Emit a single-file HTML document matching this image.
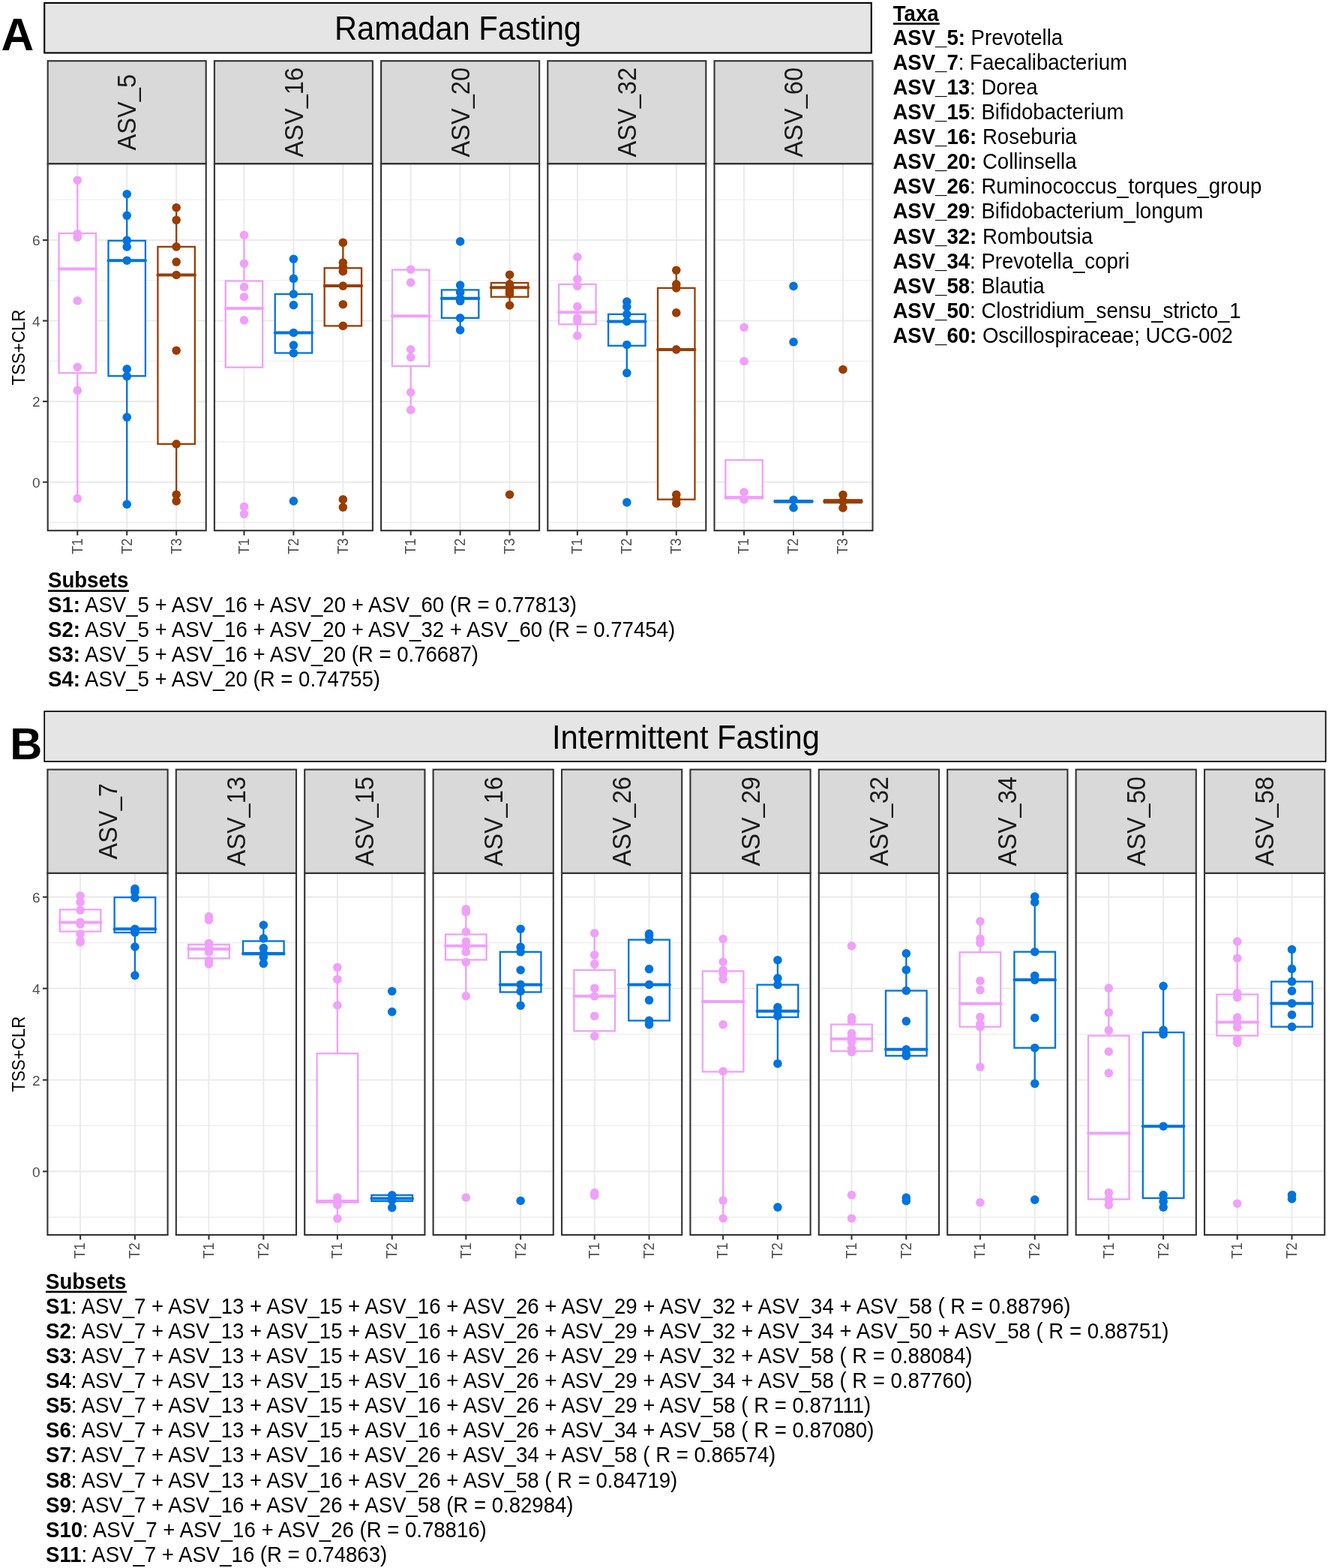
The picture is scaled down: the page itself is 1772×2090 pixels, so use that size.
<!DOCTYPE html><html><head><meta charset="utf-8"><title>Figure</title><style>html,body{margin:0;padding:0;background:#fff;}svg{display:block;} text{white-space:pre;}</style></head><body>
<svg width="1772" height="2090" viewBox="0 0 1772 2090" font-family='"Liberation Sans", Arial, Helvetica, sans-serif'>
<rect width="1772" height="2090" fill="#fff"/>
<text transform="translate(1.5 66.9)" font-size="60.5" font-weight="bold">A</text>
<rect x="59.2" y="3.9" width="1102.6" height="66.6" fill="#E5E5E5" stroke="#000" stroke-width="2.1"/>
<text transform="translate(610.5 52.6) scale(1 1.05)" font-size="41.7" text-anchor="middle">Ramadan Fasting</text>
<rect x="63.7" y="218.2" width="211" height="489" fill="#fff"/>
<line x1="63.7" x2="274.7" y1="696.36" y2="696.36" stroke="#EBEBEB" stroke-width="1.1"/>
<line x1="63.7" x2="274.7" y1="588.84" y2="588.84" stroke="#EBEBEB" stroke-width="1.1"/>
<line x1="63.7" x2="274.7" y1="481.32" y2="481.32" stroke="#EBEBEB" stroke-width="1.1"/>
<line x1="63.7" x2="274.7" y1="373.8" y2="373.8" stroke="#EBEBEB" stroke-width="1.1"/>
<line x1="63.7" x2="274.7" y1="266.28" y2="266.28" stroke="#EBEBEB" stroke-width="1.1"/>
<line x1="63.7" x2="274.7" y1="642.6" y2="642.6" stroke="#EBEBEB" stroke-width="2.1"/>
<line x1="63.7" x2="274.7" y1="535.08" y2="535.08" stroke="#EBEBEB" stroke-width="2.1"/>
<line x1="63.7" x2="274.7" y1="427.56" y2="427.56" stroke="#EBEBEB" stroke-width="2.1"/>
<line x1="63.7" x2="274.7" y1="320.04" y2="320.04" stroke="#EBEBEB" stroke-width="2.1"/>
<line x1="103.26" x2="103.26" y1="218.2" y2="707.2" stroke="#EBEBEB" stroke-width="2.1"/>
<line x1="169.2" x2="169.2" y1="218.2" y2="707.2" stroke="#EBEBEB" stroke-width="2.1"/>
<line x1="235.14" x2="235.14" y1="218.2" y2="707.2" stroke="#EBEBEB" stroke-width="2.1"/>
<line x1="103.26" x2="103.26" y1="240.2" y2="311" stroke="#F0A0FA" stroke-width="2.3"/>
<line x1="103.26" x2="103.26" y1="497.1" y2="664.4" stroke="#F0A0FA" stroke-width="2.3"/>
<rect x="78.56" y="311" width="49.4" height="186.1" fill="#fff" stroke="#F0A0FA" stroke-width="2.3"/>
<line x1="78.56" x2="127.96" y1="358.4" y2="358.4" stroke="#F0A0FA" stroke-width="4" stroke-linecap="round"/>
<line x1="169.2" x2="169.2" y1="258.7" y2="320.8" stroke="#0073DE" stroke-width="2.3"/>
<line x1="169.2" x2="169.2" y1="501.2" y2="672.2" stroke="#0073DE" stroke-width="2.3"/>
<rect x="144.5" y="320.8" width="49.4" height="180.4" fill="#fff" stroke="#0073DE" stroke-width="2.3"/>
<line x1="144.5" x2="193.9" y1="347.2" y2="347.2" stroke="#0073DE" stroke-width="4" stroke-linecap="round"/>
<line x1="235.14" x2="235.14" y1="276.7" y2="328.9" stroke="#993D00" stroke-width="2.3"/>
<line x1="235.14" x2="235.14" y1="591.8" y2="667.9" stroke="#993D00" stroke-width="2.3"/>
<rect x="210.44" y="328.9" width="49.4" height="262.9" fill="#fff" stroke="#993D00" stroke-width="2.3"/>
<line x1="210.44" x2="259.84" y1="366.5" y2="366.5" stroke="#993D00" stroke-width="4" stroke-linecap="round"/>
<circle cx="103.26" cy="240.2" r="5.8" fill="#F0A0FA"/>
<circle cx="103.26" cy="311.7" r="5.8" fill="#F0A0FA"/>
<circle cx="103.26" cy="316.3" r="5.8" fill="#F0A0FA"/>
<circle cx="103.26" cy="400.8" r="5.8" fill="#F0A0FA"/>
<circle cx="103.26" cy="489.3" r="5.8" fill="#F0A0FA"/>
<circle cx="103.26" cy="520.4" r="5.8" fill="#F0A0FA"/>
<circle cx="103.26" cy="664.4" r="5.8" fill="#F0A0FA"/>
<circle cx="169.2" cy="258.7" r="5.8" fill="#0073DE"/>
<circle cx="169.2" cy="287.3" r="5.8" fill="#0073DE"/>
<circle cx="169.2" cy="320.4" r="5.8" fill="#0073DE"/>
<circle cx="169.2" cy="328.9" r="5.8" fill="#0073DE"/>
<circle cx="169.2" cy="347.2" r="5.8" fill="#0073DE"/>
<circle cx="169.2" cy="491.9" r="5.8" fill="#0073DE"/>
<circle cx="169.2" cy="501.6" r="5.8" fill="#0073DE"/>
<circle cx="169.2" cy="556.1" r="5.8" fill="#0073DE"/>
<circle cx="169.2" cy="672.2" r="5.8" fill="#0073DE"/>
<circle cx="235.14" cy="276.7" r="5.8" fill="#993D00"/>
<circle cx="235.14" cy="293.3" r="5.8" fill="#993D00"/>
<circle cx="235.14" cy="328.9" r="5.8" fill="#993D00"/>
<circle cx="235.14" cy="349.1" r="5.8" fill="#993D00"/>
<circle cx="235.14" cy="366.5" r="5.8" fill="#993D00"/>
<circle cx="235.14" cy="467.2" r="5.8" fill="#993D00"/>
<circle cx="235.14" cy="591.8" r="5.8" fill="#993D00"/>
<circle cx="235.14" cy="659.2" r="5.8" fill="#993D00"/>
<circle cx="235.14" cy="667.9" r="5.8" fill="#993D00"/>
<rect x="63.7" y="81.2" width="211" height="137" fill="#D9D9D9" stroke="#333333" stroke-width="2.1"/>
<text transform="translate(181.3 149.7) rotate(-90) scale(1 1.05)" font-size="32.6" text-anchor="middle" fill="#1A1A1A">ASV_5</text>
<rect x="63.7" y="218.2" width="211" height="489" fill="none" stroke="#333333" stroke-width="2.1"/>
<line x1="103.26" x2="103.26" y1="707.2" y2="713.6" stroke="#333333" stroke-width="2.1"/>
<text transform="translate(109.66 717.4) rotate(-90) scale(1 1.05)" font-size="18.4" text-anchor="end" fill="#4D4D4D">T1</text>
<line x1="169.2" x2="169.2" y1="707.2" y2="713.6" stroke="#333333" stroke-width="2.1"/>
<text transform="translate(175.6 717.4) rotate(-90) scale(1 1.05)" font-size="18.4" text-anchor="end" fill="#4D4D4D">T2</text>
<line x1="235.14" x2="235.14" y1="707.2" y2="713.6" stroke="#333333" stroke-width="2.1"/>
<text transform="translate(241.54 717.4) rotate(-90) scale(1 1.05)" font-size="18.4" text-anchor="end" fill="#4D4D4D">T3</text>
<rect x="285.9" y="218.2" width="211" height="489" fill="#fff"/>
<line x1="285.9" x2="496.9" y1="696.36" y2="696.36" stroke="#EBEBEB" stroke-width="1.1"/>
<line x1="285.9" x2="496.9" y1="588.84" y2="588.84" stroke="#EBEBEB" stroke-width="1.1"/>
<line x1="285.9" x2="496.9" y1="481.32" y2="481.32" stroke="#EBEBEB" stroke-width="1.1"/>
<line x1="285.9" x2="496.9" y1="373.8" y2="373.8" stroke="#EBEBEB" stroke-width="1.1"/>
<line x1="285.9" x2="496.9" y1="266.28" y2="266.28" stroke="#EBEBEB" stroke-width="1.1"/>
<line x1="285.9" x2="496.9" y1="642.6" y2="642.6" stroke="#EBEBEB" stroke-width="2.1"/>
<line x1="285.9" x2="496.9" y1="535.08" y2="535.08" stroke="#EBEBEB" stroke-width="2.1"/>
<line x1="285.9" x2="496.9" y1="427.56" y2="427.56" stroke="#EBEBEB" stroke-width="2.1"/>
<line x1="285.9" x2="496.9" y1="320.04" y2="320.04" stroke="#EBEBEB" stroke-width="2.1"/>
<line x1="325.46" x2="325.46" y1="218.2" y2="707.2" stroke="#EBEBEB" stroke-width="2.1"/>
<line x1="391.4" x2="391.4" y1="218.2" y2="707.2" stroke="#EBEBEB" stroke-width="2.1"/>
<line x1="457.34" x2="457.34" y1="218.2" y2="707.2" stroke="#EBEBEB" stroke-width="2.1"/>
<line x1="325.46" x2="325.46" y1="313.4" y2="374.5" stroke="#F0A0FA" stroke-width="2.3"/>
<rect x="300.76" y="374.5" width="49.4" height="115.1" fill="#fff" stroke="#F0A0FA" stroke-width="2.3"/>
<line x1="300.76" x2="350.16" y1="411.1" y2="411.1" stroke="#F0A0FA" stroke-width="4" stroke-linecap="round"/>
<line x1="391.4" x2="391.4" y1="345.2" y2="392" stroke="#0073DE" stroke-width="2.3"/>
<rect x="366.7" y="392" width="49.4" height="78.5" fill="#fff" stroke="#0073DE" stroke-width="2.3"/>
<line x1="366.7" x2="416.1" y1="443.5" y2="443.5" stroke="#0073DE" stroke-width="4" stroke-linecap="round"/>
<line x1="457.34" x2="457.34" y1="323.4" y2="357.3" stroke="#993D00" stroke-width="2.3"/>
<rect x="432.64" y="357.3" width="49.4" height="77.1" fill="#fff" stroke="#993D00" stroke-width="2.3"/>
<line x1="432.64" x2="482.04" y1="381.1" y2="381.1" stroke="#993D00" stroke-width="4" stroke-linecap="round"/>
<circle cx="325.46" cy="313.4" r="5.8" fill="#F0A0FA"/>
<circle cx="325.46" cy="351.2" r="5.8" fill="#F0A0FA"/>
<circle cx="325.46" cy="382.4" r="5.8" fill="#F0A0FA"/>
<circle cx="325.46" cy="395.7" r="5.8" fill="#F0A0FA"/>
<circle cx="325.46" cy="426.9" r="5.8" fill="#F0A0FA"/>
<circle cx="325.46" cy="675.4" r="5.8" fill="#F0A0FA"/>
<circle cx="325.46" cy="685.2" r="5.8" fill="#F0A0FA"/>
<circle cx="391.4" cy="345.2" r="5.8" fill="#0073DE"/>
<circle cx="391.4" cy="371.4" r="5.8" fill="#0073DE"/>
<circle cx="391.4" cy="392" r="5.8" fill="#0073DE"/>
<circle cx="391.4" cy="406.6" r="5.8" fill="#0073DE"/>
<circle cx="391.4" cy="443.5" r="5.8" fill="#0073DE"/>
<circle cx="391.4" cy="460.1" r="5.8" fill="#0073DE"/>
<circle cx="391.4" cy="470.7" r="5.8" fill="#0073DE"/>
<circle cx="391.4" cy="667.9" r="5.8" fill="#0073DE"/>
<circle cx="457.34" cy="323.4" r="5.8" fill="#993D00"/>
<circle cx="457.34" cy="350" r="5.8" fill="#993D00"/>
<circle cx="457.34" cy="355.8" r="5.8" fill="#993D00"/>
<circle cx="457.34" cy="361.7" r="5.8" fill="#993D00"/>
<circle cx="457.34" cy="381.1" r="5.8" fill="#993D00"/>
<circle cx="457.34" cy="405.7" r="5.8" fill="#993D00"/>
<circle cx="457.34" cy="434.4" r="5.8" fill="#993D00"/>
<circle cx="457.34" cy="665.7" r="5.8" fill="#993D00"/>
<circle cx="457.34" cy="676.1" r="5.8" fill="#993D00"/>
<rect x="285.9" y="81.2" width="211" height="137" fill="#D9D9D9" stroke="#333333" stroke-width="2.1"/>
<text transform="translate(403.5 149.7) rotate(-90) scale(1 1.05)" font-size="32.6" text-anchor="middle" fill="#1A1A1A">ASV_16</text>
<rect x="285.9" y="218.2" width="211" height="489" fill="none" stroke="#333333" stroke-width="2.1"/>
<line x1="325.46" x2="325.46" y1="707.2" y2="713.6" stroke="#333333" stroke-width="2.1"/>
<text transform="translate(331.86 717.4) rotate(-90) scale(1 1.05)" font-size="18.4" text-anchor="end" fill="#4D4D4D">T1</text>
<line x1="391.4" x2="391.4" y1="707.2" y2="713.6" stroke="#333333" stroke-width="2.1"/>
<text transform="translate(397.8 717.4) rotate(-90) scale(1 1.05)" font-size="18.4" text-anchor="end" fill="#4D4D4D">T2</text>
<line x1="457.34" x2="457.34" y1="707.2" y2="713.6" stroke="#333333" stroke-width="2.1"/>
<text transform="translate(463.74 717.4) rotate(-90) scale(1 1.05)" font-size="18.4" text-anchor="end" fill="#4D4D4D">T3</text>
<rect x="508.1" y="218.2" width="211" height="489" fill="#fff"/>
<line x1="508.1" x2="719.1" y1="696.36" y2="696.36" stroke="#EBEBEB" stroke-width="1.1"/>
<line x1="508.1" x2="719.1" y1="588.84" y2="588.84" stroke="#EBEBEB" stroke-width="1.1"/>
<line x1="508.1" x2="719.1" y1="481.32" y2="481.32" stroke="#EBEBEB" stroke-width="1.1"/>
<line x1="508.1" x2="719.1" y1="373.8" y2="373.8" stroke="#EBEBEB" stroke-width="1.1"/>
<line x1="508.1" x2="719.1" y1="266.28" y2="266.28" stroke="#EBEBEB" stroke-width="1.1"/>
<line x1="508.1" x2="719.1" y1="642.6" y2="642.6" stroke="#EBEBEB" stroke-width="2.1"/>
<line x1="508.1" x2="719.1" y1="535.08" y2="535.08" stroke="#EBEBEB" stroke-width="2.1"/>
<line x1="508.1" x2="719.1" y1="427.56" y2="427.56" stroke="#EBEBEB" stroke-width="2.1"/>
<line x1="508.1" x2="719.1" y1="320.04" y2="320.04" stroke="#EBEBEB" stroke-width="2.1"/>
<line x1="547.66" x2="547.66" y1="218.2" y2="707.2" stroke="#EBEBEB" stroke-width="2.1"/>
<line x1="613.6" x2="613.6" y1="218.2" y2="707.2" stroke="#EBEBEB" stroke-width="2.1"/>
<line x1="679.54" x2="679.54" y1="218.2" y2="707.2" stroke="#EBEBEB" stroke-width="2.1"/>
<line x1="547.66" x2="547.66" y1="488" y2="546.4" stroke="#F0A0FA" stroke-width="2.3"/>
<rect x="522.96" y="359.6" width="49.4" height="128.4" fill="#fff" stroke="#F0A0FA" stroke-width="2.3"/>
<line x1="522.96" x2="572.36" y1="421.3" y2="421.3" stroke="#F0A0FA" stroke-width="4" stroke-linecap="round"/>
<line x1="613.6" x2="613.6" y1="380.1" y2="386.4" stroke="#0073DE" stroke-width="2.3"/>
<line x1="613.6" x2="613.6" y1="423.8" y2="440" stroke="#0073DE" stroke-width="2.3"/>
<rect x="588.9" y="386.4" width="49.4" height="37.4" fill="#fff" stroke="#0073DE" stroke-width="2.3"/>
<line x1="588.9" x2="638.3" y1="397.8" y2="397.8" stroke="#0073DE" stroke-width="4" stroke-linecap="round"/>
<line x1="679.54" x2="679.54" y1="366.2" y2="377" stroke="#993D00" stroke-width="2.3"/>
<line x1="679.54" x2="679.54" y1="395.7" y2="407" stroke="#993D00" stroke-width="2.3"/>
<rect x="654.84" y="377" width="49.4" height="18.7" fill="#fff" stroke="#993D00" stroke-width="2.3"/>
<line x1="654.84" x2="704.24" y1="383.3" y2="383.3" stroke="#993D00" stroke-width="4" stroke-linecap="round"/>
<circle cx="547.66" cy="359.2" r="5.8" fill="#F0A0FA"/>
<circle cx="547.66" cy="376.6" r="5.8" fill="#F0A0FA"/>
<circle cx="547.66" cy="465.7" r="5.8" fill="#F0A0FA"/>
<circle cx="547.66" cy="476.3" r="5.8" fill="#F0A0FA"/>
<circle cx="547.66" cy="523" r="5.8" fill="#F0A0FA"/>
<circle cx="547.66" cy="546.4" r="5.8" fill="#F0A0FA"/>
<circle cx="613.6" cy="321.9" r="5.8" fill="#0073DE"/>
<circle cx="613.6" cy="380.1" r="5.8" fill="#0073DE"/>
<circle cx="613.6" cy="389.5" r="5.8" fill="#0073DE"/>
<circle cx="613.6" cy="397.8" r="5.8" fill="#0073DE"/>
<circle cx="613.6" cy="401.3" r="5.8" fill="#0073DE"/>
<circle cx="613.6" cy="423.8" r="5.8" fill="#0073DE"/>
<circle cx="613.6" cy="440" r="5.8" fill="#0073DE"/>
<circle cx="679.54" cy="366.2" r="5.8" fill="#993D00"/>
<circle cx="679.54" cy="378.9" r="5.8" fill="#993D00"/>
<circle cx="679.54" cy="383.3" r="5.8" fill="#993D00"/>
<circle cx="679.54" cy="388" r="5.8" fill="#993D00"/>
<circle cx="679.54" cy="392" r="5.8" fill="#993D00"/>
<circle cx="679.54" cy="407" r="5.8" fill="#993D00"/>
<circle cx="679.54" cy="659.2" r="5.8" fill="#993D00"/>
<rect x="508.1" y="81.2" width="211" height="137" fill="#D9D9D9" stroke="#333333" stroke-width="2.1"/>
<text transform="translate(625.7 149.7) rotate(-90) scale(1 1.05)" font-size="32.6" text-anchor="middle" fill="#1A1A1A">ASV_20</text>
<rect x="508.1" y="218.2" width="211" height="489" fill="none" stroke="#333333" stroke-width="2.1"/>
<line x1="547.66" x2="547.66" y1="707.2" y2="713.6" stroke="#333333" stroke-width="2.1"/>
<text transform="translate(554.06 717.4) rotate(-90) scale(1 1.05)" font-size="18.4" text-anchor="end" fill="#4D4D4D">T1</text>
<line x1="613.6" x2="613.6" y1="707.2" y2="713.6" stroke="#333333" stroke-width="2.1"/>
<text transform="translate(620 717.4) rotate(-90) scale(1 1.05)" font-size="18.4" text-anchor="end" fill="#4D4D4D">T2</text>
<line x1="679.54" x2="679.54" y1="707.2" y2="713.6" stroke="#333333" stroke-width="2.1"/>
<text transform="translate(685.94 717.4) rotate(-90) scale(1 1.05)" font-size="18.4" text-anchor="end" fill="#4D4D4D">T3</text>
<rect x="730.3" y="218.2" width="211" height="489" fill="#fff"/>
<line x1="730.3" x2="941.3" y1="696.36" y2="696.36" stroke="#EBEBEB" stroke-width="1.1"/>
<line x1="730.3" x2="941.3" y1="588.84" y2="588.84" stroke="#EBEBEB" stroke-width="1.1"/>
<line x1="730.3" x2="941.3" y1="481.32" y2="481.32" stroke="#EBEBEB" stroke-width="1.1"/>
<line x1="730.3" x2="941.3" y1="373.8" y2="373.8" stroke="#EBEBEB" stroke-width="1.1"/>
<line x1="730.3" x2="941.3" y1="266.28" y2="266.28" stroke="#EBEBEB" stroke-width="1.1"/>
<line x1="730.3" x2="941.3" y1="642.6" y2="642.6" stroke="#EBEBEB" stroke-width="2.1"/>
<line x1="730.3" x2="941.3" y1="535.08" y2="535.08" stroke="#EBEBEB" stroke-width="2.1"/>
<line x1="730.3" x2="941.3" y1="427.56" y2="427.56" stroke="#EBEBEB" stroke-width="2.1"/>
<line x1="730.3" x2="941.3" y1="320.04" y2="320.04" stroke="#EBEBEB" stroke-width="2.1"/>
<line x1="769.86" x2="769.86" y1="218.2" y2="707.2" stroke="#EBEBEB" stroke-width="2.1"/>
<line x1="835.8" x2="835.8" y1="218.2" y2="707.2" stroke="#EBEBEB" stroke-width="2.1"/>
<line x1="901.74" x2="901.74" y1="218.2" y2="707.2" stroke="#EBEBEB" stroke-width="2.1"/>
<line x1="769.86" x2="769.86" y1="342.5" y2="378.9" stroke="#F0A0FA" stroke-width="2.3"/>
<line x1="769.86" x2="769.86" y1="432.3" y2="447.5" stroke="#F0A0FA" stroke-width="2.3"/>
<rect x="745.16" y="378.9" width="49.4" height="53.4" fill="#fff" stroke="#F0A0FA" stroke-width="2.3"/>
<line x1="745.16" x2="794.56" y1="416.3" y2="416.3" stroke="#F0A0FA" stroke-width="4" stroke-linecap="round"/>
<line x1="835.8" x2="835.8" y1="402" y2="418.8" stroke="#0073DE" stroke-width="2.3"/>
<line x1="835.8" x2="835.8" y1="460.8" y2="497.1" stroke="#0073DE" stroke-width="2.3"/>
<rect x="811.1" y="418.8" width="49.4" height="42" fill="#fff" stroke="#0073DE" stroke-width="2.3"/>
<line x1="811.1" x2="860.5" y1="428.5" y2="428.5" stroke="#0073DE" stroke-width="4" stroke-linecap="round"/>
<line x1="901.74" x2="901.74" y1="360.2" y2="383.9" stroke="#993D00" stroke-width="2.3"/>
<line x1="901.74" x2="901.74" y1="665.7" y2="670.9" stroke="#993D00" stroke-width="2.3"/>
<rect x="877.04" y="383.9" width="49.4" height="281.8" fill="#fff" stroke="#993D00" stroke-width="2.3"/>
<line x1="877.04" x2="926.44" y1="465.9" y2="465.9" stroke="#993D00" stroke-width="4" stroke-linecap="round"/>
<circle cx="769.86" cy="342.5" r="5.8" fill="#F0A0FA"/>
<circle cx="769.86" cy="372" r="5.8" fill="#F0A0FA"/>
<circle cx="769.86" cy="381.4" r="5.8" fill="#F0A0FA"/>
<circle cx="769.86" cy="408.6" r="5.8" fill="#F0A0FA"/>
<circle cx="769.86" cy="423.8" r="5.8" fill="#F0A0FA"/>
<circle cx="769.86" cy="427.5" r="5.8" fill="#F0A0FA"/>
<circle cx="769.86" cy="447.5" r="5.8" fill="#F0A0FA"/>
<circle cx="835.8" cy="402" r="5.8" fill="#0073DE"/>
<circle cx="835.8" cy="408.8" r="5.8" fill="#0073DE"/>
<circle cx="835.8" cy="418.8" r="5.8" fill="#0073DE"/>
<circle cx="835.8" cy="428.5" r="5.8" fill="#0073DE"/>
<circle cx="835.8" cy="459.5" r="5.8" fill="#0073DE"/>
<circle cx="835.8" cy="497.1" r="5.8" fill="#0073DE"/>
<circle cx="835.8" cy="669.6" r="5.8" fill="#0073DE"/>
<circle cx="901.74" cy="360.2" r="5.8" fill="#993D00"/>
<circle cx="901.74" cy="378.9" r="5.8" fill="#993D00"/>
<circle cx="901.74" cy="383.9" r="5.8" fill="#993D00"/>
<circle cx="901.74" cy="416.9" r="5.8" fill="#993D00"/>
<circle cx="901.74" cy="465.9" r="5.8" fill="#993D00"/>
<circle cx="901.74" cy="659.2" r="5.8" fill="#993D00"/>
<circle cx="901.74" cy="665.7" r="5.8" fill="#993D00"/>
<circle cx="901.74" cy="670.9" r="5.8" fill="#993D00"/>
<rect x="730.3" y="81.2" width="211" height="137" fill="#D9D9D9" stroke="#333333" stroke-width="2.1"/>
<text transform="translate(847.9 149.7) rotate(-90) scale(1 1.05)" font-size="32.6" text-anchor="middle" fill="#1A1A1A">ASV_32</text>
<rect x="730.3" y="218.2" width="211" height="489" fill="none" stroke="#333333" stroke-width="2.1"/>
<line x1="769.86" x2="769.86" y1="707.2" y2="713.6" stroke="#333333" stroke-width="2.1"/>
<text transform="translate(776.26 717.4) rotate(-90) scale(1 1.05)" font-size="18.4" text-anchor="end" fill="#4D4D4D">T1</text>
<line x1="835.8" x2="835.8" y1="707.2" y2="713.6" stroke="#333333" stroke-width="2.1"/>
<text transform="translate(842.2 717.4) rotate(-90) scale(1 1.05)" font-size="18.4" text-anchor="end" fill="#4D4D4D">T2</text>
<line x1="901.74" x2="901.74" y1="707.2" y2="713.6" stroke="#333333" stroke-width="2.1"/>
<text transform="translate(908.14 717.4) rotate(-90) scale(1 1.05)" font-size="18.4" text-anchor="end" fill="#4D4D4D">T3</text>
<rect x="952.5" y="218.2" width="211" height="489" fill="#fff"/>
<line x1="952.5" x2="1163.5" y1="696.36" y2="696.36" stroke="#EBEBEB" stroke-width="1.1"/>
<line x1="952.5" x2="1163.5" y1="588.84" y2="588.84" stroke="#EBEBEB" stroke-width="1.1"/>
<line x1="952.5" x2="1163.5" y1="481.32" y2="481.32" stroke="#EBEBEB" stroke-width="1.1"/>
<line x1="952.5" x2="1163.5" y1="373.8" y2="373.8" stroke="#EBEBEB" stroke-width="1.1"/>
<line x1="952.5" x2="1163.5" y1="266.28" y2="266.28" stroke="#EBEBEB" stroke-width="1.1"/>
<line x1="952.5" x2="1163.5" y1="642.6" y2="642.6" stroke="#EBEBEB" stroke-width="2.1"/>
<line x1="952.5" x2="1163.5" y1="535.08" y2="535.08" stroke="#EBEBEB" stroke-width="2.1"/>
<line x1="952.5" x2="1163.5" y1="427.56" y2="427.56" stroke="#EBEBEB" stroke-width="2.1"/>
<line x1="952.5" x2="1163.5" y1="320.04" y2="320.04" stroke="#EBEBEB" stroke-width="2.1"/>
<line x1="992.06" x2="992.06" y1="218.2" y2="707.2" stroke="#EBEBEB" stroke-width="2.1"/>
<line x1="1058" x2="1058" y1="218.2" y2="707.2" stroke="#EBEBEB" stroke-width="2.1"/>
<line x1="1123.94" x2="1123.94" y1="218.2" y2="707.2" stroke="#EBEBEB" stroke-width="2.1"/>
<rect x="967.36" y="613.2" width="49.4" height="51.2" fill="#fff" stroke="#F0A0FA" stroke-width="2.3"/>
<line x1="967.36" x2="1016.76" y1="663.1" y2="663.1" stroke="#F0A0FA" stroke-width="4" stroke-linecap="round"/>
<rect x="1033.3" y="667.2" width="49.4" height="2.2" fill="#fff" stroke="#0073DE" stroke-width="2.3"/>
<line x1="1033.3" x2="1082.7" y1="668.3" y2="668.3" stroke="#0073DE" stroke-width="4" stroke-linecap="round"/>
<rect x="1099.24" y="666.3" width="49.4" height="3.8" fill="#fff" stroke="#993D00" stroke-width="2.3"/>
<line x1="1099.24" x2="1148.64" y1="668.2" y2="668.2" stroke="#993D00" stroke-width="4" stroke-linecap="round"/>
<circle cx="992.06" cy="436.3" r="5.8" fill="#F0A0FA"/>
<circle cx="992.06" cy="481.5" r="5.8" fill="#F0A0FA"/>
<circle cx="992.06" cy="656" r="5.8" fill="#F0A0FA"/>
<circle cx="992.06" cy="665.7" r="5.8" fill="#F0A0FA"/>
<circle cx="1058" cy="381.4" r="5.8" fill="#0073DE"/>
<circle cx="1058" cy="455.8" r="5.8" fill="#0073DE"/>
<circle cx="1058" cy="666.4" r="5.8" fill="#0073DE"/>
<circle cx="1058" cy="676.7" r="5.8" fill="#0073DE"/>
<circle cx="1123.94" cy="492.5" r="5.8" fill="#993D00"/>
<circle cx="1123.94" cy="659.6" r="5.8" fill="#993D00"/>
<circle cx="1123.94" cy="668.2" r="5.8" fill="#993D00"/>
<circle cx="1123.94" cy="677" r="5.8" fill="#993D00"/>
<rect x="952.5" y="81.2" width="211" height="137" fill="#D9D9D9" stroke="#333333" stroke-width="2.1"/>
<text transform="translate(1070.1 149.7) rotate(-90) scale(1 1.05)" font-size="32.6" text-anchor="middle" fill="#1A1A1A">ASV_60</text>
<rect x="952.5" y="218.2" width="211" height="489" fill="none" stroke="#333333" stroke-width="2.1"/>
<line x1="992.06" x2="992.06" y1="707.2" y2="713.6" stroke="#333333" stroke-width="2.1"/>
<text transform="translate(998.46 717.4) rotate(-90) scale(1 1.05)" font-size="18.4" text-anchor="end" fill="#4D4D4D">T1</text>
<line x1="1058" x2="1058" y1="707.2" y2="713.6" stroke="#333333" stroke-width="2.1"/>
<text transform="translate(1064.4 717.4) rotate(-90) scale(1 1.05)" font-size="18.4" text-anchor="end" fill="#4D4D4D">T2</text>
<line x1="1123.94" x2="1123.94" y1="707.2" y2="713.6" stroke="#333333" stroke-width="2.1"/>
<text transform="translate(1130.34 717.4) rotate(-90) scale(1 1.05)" font-size="18.4" text-anchor="end" fill="#4D4D4D">T3</text>
<line x1="57" x2="63.7" y1="642.6" y2="642.6" stroke="#333333" stroke-width="2.1"/>
<text transform="translate(53.6 649.7)" font-size="19" text-anchor="end" fill="#4D4D4D">0</text>
<line x1="57" x2="63.7" y1="535.08" y2="535.08" stroke="#333333" stroke-width="2.1"/>
<text transform="translate(53.6 542.18)" font-size="19" text-anchor="end" fill="#4D4D4D">2</text>
<line x1="57" x2="63.7" y1="427.56" y2="427.56" stroke="#333333" stroke-width="2.1"/>
<text transform="translate(53.6 434.66)" font-size="19" text-anchor="end" fill="#4D4D4D">4</text>
<line x1="57" x2="63.7" y1="320.04" y2="320.04" stroke="#333333" stroke-width="2.1"/>
<text transform="translate(53.6 327.14)" font-size="19" text-anchor="end" fill="#4D4D4D">6</text>
<text transform="translate(33 463) rotate(-90) scale(1 1.07)" font-size="22.3" text-anchor="middle">TSS+CLR</text>
<text transform="translate(13.2 1011.7)" font-size="59.6" font-weight="bold">B</text>
<rect x="59.2" y="948.2" width="1708.4" height="66.8" fill="#E5E5E5" stroke="#000" stroke-width="1.7"/>
<text transform="translate(914.4 997.6) scale(1 1.05)" font-size="41.7" text-anchor="middle">Intermittent Fasting</text>
<rect x="63.4" y="1163.9" width="160.2" height="482.1" fill="#fff"/>
<line x1="63.4" x2="223.6" y1="1622.36" y2="1622.36" stroke="#EBEBEB" stroke-width="1.1"/>
<line x1="63.4" x2="223.6" y1="1500.44" y2="1500.44" stroke="#EBEBEB" stroke-width="1.1"/>
<line x1="63.4" x2="223.6" y1="1378.52" y2="1378.52" stroke="#EBEBEB" stroke-width="1.1"/>
<line x1="63.4" x2="223.6" y1="1256.6" y2="1256.6" stroke="#EBEBEB" stroke-width="1.1"/>
<line x1="63.4" x2="223.6" y1="1561.4" y2="1561.4" stroke="#EBEBEB" stroke-width="2.1"/>
<line x1="63.4" x2="223.6" y1="1439.48" y2="1439.48" stroke="#EBEBEB" stroke-width="2.1"/>
<line x1="63.4" x2="223.6" y1="1317.56" y2="1317.56" stroke="#EBEBEB" stroke-width="2.1"/>
<line x1="63.4" x2="223.6" y1="1195.64" y2="1195.64" stroke="#EBEBEB" stroke-width="2.1"/>
<line x1="107.09" x2="107.09" y1="1163.9" y2="1646" stroke="#EBEBEB" stroke-width="2.1"/>
<line x1="179.91" x2="179.91" y1="1163.9" y2="1646" stroke="#EBEBEB" stroke-width="2.1"/>
<line x1="107.09" x2="107.09" y1="1194" y2="1212.4" stroke="#F0A0FA" stroke-width="2.3"/>
<line x1="107.09" x2="107.09" y1="1241.6" y2="1255.9" stroke="#F0A0FA" stroke-width="2.3"/>
<rect x="79.79" y="1212.4" width="54.6" height="29.2" fill="#fff" stroke="#F0A0FA" stroke-width="2.3"/>
<line x1="79.79" x2="134.39" y1="1229.4" y2="1229.4" stroke="#F0A0FA" stroke-width="4" stroke-linecap="round"/>
<line x1="179.91" x2="179.91" y1="1184.5" y2="1196.1" stroke="#0073DE" stroke-width="2.3"/>
<line x1="179.91" x2="179.91" y1="1243" y2="1300.1" stroke="#0073DE" stroke-width="2.3"/>
<rect x="152.61" y="1196.1" width="54.6" height="46.9" fill="#fff" stroke="#0073DE" stroke-width="2.3"/>
<line x1="152.61" x2="207.21" y1="1238.2" y2="1238.2" stroke="#0073DE" stroke-width="4" stroke-linecap="round"/>
<circle cx="107.09" cy="1194" r="5.8" fill="#F0A0FA"/>
<circle cx="107.09" cy="1202.4" r="5.8" fill="#F0A0FA"/>
<circle cx="107.09" cy="1213.1" r="5.8" fill="#F0A0FA"/>
<circle cx="107.09" cy="1229.4" r="5.8" fill="#F0A0FA"/>
<circle cx="107.09" cy="1232" r="5.8" fill="#F0A0FA"/>
<circle cx="107.09" cy="1245" r="5.8" fill="#F0A0FA"/>
<circle cx="107.09" cy="1253.9" r="5.8" fill="#F0A0FA"/>
<circle cx="107.09" cy="1255.9" r="5.8" fill="#F0A0FA"/>
<circle cx="179.91" cy="1184.5" r="5.8" fill="#0073DE"/>
<circle cx="179.91" cy="1188.6" r="5.8" fill="#0073DE"/>
<circle cx="179.91" cy="1196.7" r="5.8" fill="#0073DE"/>
<circle cx="179.91" cy="1238.2" r="5.8" fill="#0073DE"/>
<circle cx="179.91" cy="1240.3" r="5.8" fill="#0073DE"/>
<circle cx="179.91" cy="1243" r="5.8" fill="#0073DE"/>
<circle cx="179.91" cy="1262" r="5.8" fill="#0073DE"/>
<circle cx="179.91" cy="1300.1" r="5.8" fill="#0073DE"/>
<rect x="63.4" y="1025.7" width="160.2" height="138.2" fill="#D9D9D9" stroke="#333333" stroke-width="2.1"/>
<text transform="translate(155.6 1094.8) rotate(-90) scale(1 1.05)" font-size="32.6" text-anchor="middle" fill="#1A1A1A">ASV_7</text>
<rect x="63.4" y="1163.9" width="160.2" height="482.1" fill="none" stroke="#333333" stroke-width="2.1"/>
<line x1="107.09" x2="107.09" y1="1646" y2="1652.4" stroke="#333333" stroke-width="2.1"/>
<text transform="translate(113.49 1656.2) rotate(-90) scale(1 1.05)" font-size="18.4" text-anchor="end" fill="#4D4D4D">T1</text>
<line x1="179.91" x2="179.91" y1="1646" y2="1652.4" stroke="#333333" stroke-width="2.1"/>
<text transform="translate(186.31 1656.2) rotate(-90) scale(1 1.05)" font-size="18.4" text-anchor="end" fill="#4D4D4D">T2</text>
<rect x="234.8" y="1163.9" width="160.2" height="482.1" fill="#fff"/>
<line x1="234.8" x2="395" y1="1622.36" y2="1622.36" stroke="#EBEBEB" stroke-width="1.1"/>
<line x1="234.8" x2="395" y1="1500.44" y2="1500.44" stroke="#EBEBEB" stroke-width="1.1"/>
<line x1="234.8" x2="395" y1="1378.52" y2="1378.52" stroke="#EBEBEB" stroke-width="1.1"/>
<line x1="234.8" x2="395" y1="1256.6" y2="1256.6" stroke="#EBEBEB" stroke-width="1.1"/>
<line x1="234.8" x2="395" y1="1561.4" y2="1561.4" stroke="#EBEBEB" stroke-width="2.1"/>
<line x1="234.8" x2="395" y1="1439.48" y2="1439.48" stroke="#EBEBEB" stroke-width="2.1"/>
<line x1="234.8" x2="395" y1="1317.56" y2="1317.56" stroke="#EBEBEB" stroke-width="2.1"/>
<line x1="234.8" x2="395" y1="1195.64" y2="1195.64" stroke="#EBEBEB" stroke-width="2.1"/>
<line x1="278.49" x2="278.49" y1="1163.9" y2="1646" stroke="#EBEBEB" stroke-width="2.1"/>
<line x1="351.31" x2="351.31" y1="1163.9" y2="1646" stroke="#EBEBEB" stroke-width="2.1"/>
<line x1="278.49" x2="278.49" y1="1257.2" y2="1259" stroke="#F0A0FA" stroke-width="2.3"/>
<line x1="278.49" x2="278.49" y1="1277.4" y2="1284.9" stroke="#F0A0FA" stroke-width="2.3"/>
<rect x="251.19" y="1259" width="54.6" height="18.4" fill="#fff" stroke="#F0A0FA" stroke-width="2.3"/>
<line x1="251.19" x2="305.79" y1="1265.1" y2="1265.1" stroke="#F0A0FA" stroke-width="4" stroke-linecap="round"/>
<line x1="351.31" x2="351.31" y1="1233" y2="1254.4" stroke="#0073DE" stroke-width="2.3"/>
<line x1="351.31" x2="351.31" y1="1272.2" y2="1284.3" stroke="#0073DE" stroke-width="2.3"/>
<rect x="324.01" y="1254.4" width="54.6" height="17.8" fill="#fff" stroke="#0073DE" stroke-width="2.3"/>
<line x1="324.01" x2="378.61" y1="1271.1" y2="1271.1" stroke="#0073DE" stroke-width="4" stroke-linecap="round"/>
<circle cx="278.49" cy="1221.5" r="5.8" fill="#F0A0FA"/>
<circle cx="278.49" cy="1226.1" r="5.8" fill="#F0A0FA"/>
<circle cx="278.49" cy="1257.2" r="5.8" fill="#F0A0FA"/>
<circle cx="278.49" cy="1263" r="5.8" fill="#F0A0FA"/>
<circle cx="278.49" cy="1268.8" r="5.8" fill="#F0A0FA"/>
<circle cx="278.49" cy="1280.3" r="5.8" fill="#F0A0FA"/>
<circle cx="278.49" cy="1284.9" r="5.8" fill="#F0A0FA"/>
<circle cx="351.31" cy="1233" r="5.8" fill="#0073DE"/>
<circle cx="351.31" cy="1250.9" r="5.8" fill="#0073DE"/>
<circle cx="351.31" cy="1263.6" r="5.8" fill="#0073DE"/>
<circle cx="351.31" cy="1271.1" r="5.8" fill="#0073DE"/>
<circle cx="351.31" cy="1275.7" r="5.8" fill="#0073DE"/>
<circle cx="351.31" cy="1284.3" r="5.8" fill="#0073DE"/>
<rect x="234.8" y="1025.7" width="160.2" height="138.2" fill="#D9D9D9" stroke="#333333" stroke-width="2.1"/>
<text transform="translate(327 1094.8) rotate(-90) scale(1 1.05)" font-size="32.6" text-anchor="middle" fill="#1A1A1A">ASV_13</text>
<rect x="234.8" y="1163.9" width="160.2" height="482.1" fill="none" stroke="#333333" stroke-width="2.1"/>
<line x1="278.49" x2="278.49" y1="1646" y2="1652.4" stroke="#333333" stroke-width="2.1"/>
<text transform="translate(284.89 1656.2) rotate(-90) scale(1 1.05)" font-size="18.4" text-anchor="end" fill="#4D4D4D">T1</text>
<line x1="351.31" x2="351.31" y1="1646" y2="1652.4" stroke="#333333" stroke-width="2.1"/>
<text transform="translate(357.71 1656.2) rotate(-90) scale(1 1.05)" font-size="18.4" text-anchor="end" fill="#4D4D4D">T2</text>
<rect x="406.2" y="1163.9" width="160.2" height="482.1" fill="#fff"/>
<line x1="406.2" x2="566.4" y1="1622.36" y2="1622.36" stroke="#EBEBEB" stroke-width="1.1"/>
<line x1="406.2" x2="566.4" y1="1500.44" y2="1500.44" stroke="#EBEBEB" stroke-width="1.1"/>
<line x1="406.2" x2="566.4" y1="1378.52" y2="1378.52" stroke="#EBEBEB" stroke-width="1.1"/>
<line x1="406.2" x2="566.4" y1="1256.6" y2="1256.6" stroke="#EBEBEB" stroke-width="1.1"/>
<line x1="406.2" x2="566.4" y1="1561.4" y2="1561.4" stroke="#EBEBEB" stroke-width="2.1"/>
<line x1="406.2" x2="566.4" y1="1439.48" y2="1439.48" stroke="#EBEBEB" stroke-width="2.1"/>
<line x1="406.2" x2="566.4" y1="1317.56" y2="1317.56" stroke="#EBEBEB" stroke-width="2.1"/>
<line x1="406.2" x2="566.4" y1="1195.64" y2="1195.64" stroke="#EBEBEB" stroke-width="2.1"/>
<line x1="449.89" x2="449.89" y1="1163.9" y2="1646" stroke="#EBEBEB" stroke-width="2.1"/>
<line x1="522.71" x2="522.71" y1="1163.9" y2="1646" stroke="#EBEBEB" stroke-width="2.1"/>
<line x1="449.89" x2="449.89" y1="1289.3" y2="1404.2" stroke="#F0A0FA" stroke-width="2.3"/>
<line x1="449.89" x2="449.89" y1="1602.8" y2="1624.3" stroke="#F0A0FA" stroke-width="2.3"/>
<rect x="422.59" y="1404.2" width="54.6" height="198.6" fill="#fff" stroke="#F0A0FA" stroke-width="2.3"/>
<line x1="422.59" x2="477.19" y1="1601" y2="1601" stroke="#F0A0FA" stroke-width="4" stroke-linecap="round"/>
<rect x="495.41" y="1593" width="54.6" height="8" fill="#fff" stroke="#0073DE" stroke-width="2.3"/>
<line x1="495.41" x2="550.01" y1="1597.5" y2="1597.5" stroke="#0073DE" stroke-width="4" stroke-linecap="round"/>
<circle cx="449.89" cy="1289.3" r="5.8" fill="#F0A0FA"/>
<circle cx="449.89" cy="1305.4" r="5.8" fill="#F0A0FA"/>
<circle cx="449.89" cy="1340" r="5.8" fill="#F0A0FA"/>
<circle cx="449.89" cy="1596" r="5.8" fill="#F0A0FA"/>
<circle cx="449.89" cy="1601" r="5.8" fill="#F0A0FA"/>
<circle cx="449.89" cy="1605.9" r="5.8" fill="#F0A0FA"/>
<circle cx="449.89" cy="1624.3" r="5.8" fill="#F0A0FA"/>
<circle cx="522.71" cy="1321.2" r="5.8" fill="#0073DE"/>
<circle cx="522.71" cy="1348.6" r="5.8" fill="#0073DE"/>
<circle cx="522.71" cy="1593" r="5.8" fill="#0073DE"/>
<circle cx="522.71" cy="1600" r="5.8" fill="#0073DE"/>
<circle cx="522.71" cy="1609.6" r="5.8" fill="#0073DE"/>
<rect x="406.2" y="1025.7" width="160.2" height="138.2" fill="#D9D9D9" stroke="#333333" stroke-width="2.1"/>
<text transform="translate(498.4 1094.8) rotate(-90) scale(1 1.05)" font-size="32.6" text-anchor="middle" fill="#1A1A1A">ASV_15</text>
<rect x="406.2" y="1163.9" width="160.2" height="482.1" fill="none" stroke="#333333" stroke-width="2.1"/>
<line x1="449.89" x2="449.89" y1="1646" y2="1652.4" stroke="#333333" stroke-width="2.1"/>
<text transform="translate(456.29 1656.2) rotate(-90) scale(1 1.05)" font-size="18.4" text-anchor="end" fill="#4D4D4D">T1</text>
<line x1="522.71" x2="522.71" y1="1646" y2="1652.4" stroke="#333333" stroke-width="2.1"/>
<text transform="translate(529.11 1656.2) rotate(-90) scale(1 1.05)" font-size="18.4" text-anchor="end" fill="#4D4D4D">T2</text>
<rect x="577.6" y="1163.9" width="160.2" height="482.1" fill="#fff"/>
<line x1="577.6" x2="737.8" y1="1622.36" y2="1622.36" stroke="#EBEBEB" stroke-width="1.1"/>
<line x1="577.6" x2="737.8" y1="1500.44" y2="1500.44" stroke="#EBEBEB" stroke-width="1.1"/>
<line x1="577.6" x2="737.8" y1="1378.52" y2="1378.52" stroke="#EBEBEB" stroke-width="1.1"/>
<line x1="577.6" x2="737.8" y1="1256.6" y2="1256.6" stroke="#EBEBEB" stroke-width="1.1"/>
<line x1="577.6" x2="737.8" y1="1561.4" y2="1561.4" stroke="#EBEBEB" stroke-width="2.1"/>
<line x1="577.6" x2="737.8" y1="1439.48" y2="1439.48" stroke="#EBEBEB" stroke-width="2.1"/>
<line x1="577.6" x2="737.8" y1="1317.56" y2="1317.56" stroke="#EBEBEB" stroke-width="2.1"/>
<line x1="577.6" x2="737.8" y1="1195.64" y2="1195.64" stroke="#EBEBEB" stroke-width="2.1"/>
<line x1="621.29" x2="621.29" y1="1163.9" y2="1646" stroke="#EBEBEB" stroke-width="2.1"/>
<line x1="694.11" x2="694.11" y1="1163.9" y2="1646" stroke="#EBEBEB" stroke-width="2.1"/>
<line x1="621.29" x2="621.29" y1="1211.7" y2="1245.5" stroke="#F0A0FA" stroke-width="2.3"/>
<line x1="621.29" x2="621.29" y1="1279.4" y2="1327.6" stroke="#F0A0FA" stroke-width="2.3"/>
<rect x="593.99" y="1245.5" width="54.6" height="33.9" fill="#fff" stroke="#F0A0FA" stroke-width="2.3"/>
<line x1="593.99" x2="648.59" y1="1260.7" y2="1260.7" stroke="#F0A0FA" stroke-width="4" stroke-linecap="round"/>
<line x1="694.11" x2="694.11" y1="1238.2" y2="1268.8" stroke="#0073DE" stroke-width="2.3"/>
<line x1="694.11" x2="694.11" y1="1322.4" y2="1340.3" stroke="#0073DE" stroke-width="2.3"/>
<rect x="666.81" y="1268.8" width="54.6" height="53.6" fill="#fff" stroke="#0073DE" stroke-width="2.3"/>
<line x1="666.81" x2="721.41" y1="1312.4" y2="1312.4" stroke="#0073DE" stroke-width="4" stroke-linecap="round"/>
<circle cx="621.29" cy="1211.7" r="5.8" fill="#F0A0FA"/>
<circle cx="621.29" cy="1215.7" r="5.8" fill="#F0A0FA"/>
<circle cx="621.29" cy="1242" r="5.8" fill="#F0A0FA"/>
<circle cx="621.29" cy="1255" r="5.8" fill="#F0A0FA"/>
<circle cx="621.29" cy="1260.7" r="5.8" fill="#F0A0FA"/>
<circle cx="621.29" cy="1268.8" r="5.8" fill="#F0A0FA"/>
<circle cx="621.29" cy="1282.6" r="5.8" fill="#F0A0FA"/>
<circle cx="621.29" cy="1327.6" r="5.8" fill="#F0A0FA"/>
<circle cx="621.29" cy="1596.2" r="5.8" fill="#F0A0FA"/>
<circle cx="694.11" cy="1238.2" r="5.8" fill="#0073DE"/>
<circle cx="694.11" cy="1262.4" r="5.8" fill="#0073DE"/>
<circle cx="694.11" cy="1268.8" r="5.8" fill="#0073DE"/>
<circle cx="694.11" cy="1293" r="5.8" fill="#0073DE"/>
<circle cx="694.11" cy="1312.4" r="5.8" fill="#0073DE"/>
<circle cx="694.11" cy="1321.2" r="5.8" fill="#0073DE"/>
<circle cx="694.11" cy="1340.3" r="5.8" fill="#0073DE"/>
<circle cx="694.11" cy="1600.5" r="5.8" fill="#0073DE"/>
<rect x="577.6" y="1025.7" width="160.2" height="138.2" fill="#D9D9D9" stroke="#333333" stroke-width="2.1"/>
<text transform="translate(669.8 1094.8) rotate(-90) scale(1 1.05)" font-size="32.6" text-anchor="middle" fill="#1A1A1A">ASV_16</text>
<rect x="577.6" y="1163.9" width="160.2" height="482.1" fill="none" stroke="#333333" stroke-width="2.1"/>
<line x1="621.29" x2="621.29" y1="1646" y2="1652.4" stroke="#333333" stroke-width="2.1"/>
<text transform="translate(627.69 1656.2) rotate(-90) scale(1 1.05)" font-size="18.4" text-anchor="end" fill="#4D4D4D">T1</text>
<line x1="694.11" x2="694.11" y1="1646" y2="1652.4" stroke="#333333" stroke-width="2.1"/>
<text transform="translate(700.51 1656.2) rotate(-90) scale(1 1.05)" font-size="18.4" text-anchor="end" fill="#4D4D4D">T2</text>
<rect x="749" y="1163.9" width="160.2" height="482.1" fill="#fff"/>
<line x1="749" x2="909.2" y1="1622.36" y2="1622.36" stroke="#EBEBEB" stroke-width="1.1"/>
<line x1="749" x2="909.2" y1="1500.44" y2="1500.44" stroke="#EBEBEB" stroke-width="1.1"/>
<line x1="749" x2="909.2" y1="1378.52" y2="1378.52" stroke="#EBEBEB" stroke-width="1.1"/>
<line x1="749" x2="909.2" y1="1256.6" y2="1256.6" stroke="#EBEBEB" stroke-width="1.1"/>
<line x1="749" x2="909.2" y1="1561.4" y2="1561.4" stroke="#EBEBEB" stroke-width="2.1"/>
<line x1="749" x2="909.2" y1="1439.48" y2="1439.48" stroke="#EBEBEB" stroke-width="2.1"/>
<line x1="749" x2="909.2" y1="1317.56" y2="1317.56" stroke="#EBEBEB" stroke-width="2.1"/>
<line x1="749" x2="909.2" y1="1195.64" y2="1195.64" stroke="#EBEBEB" stroke-width="2.1"/>
<line x1="792.69" x2="792.69" y1="1163.9" y2="1646" stroke="#EBEBEB" stroke-width="2.1"/>
<line x1="865.51" x2="865.51" y1="1163.9" y2="1646" stroke="#EBEBEB" stroke-width="2.1"/>
<line x1="792.69" x2="792.69" y1="1243.8" y2="1293" stroke="#F0A0FA" stroke-width="2.3"/>
<line x1="792.69" x2="792.69" y1="1374.3" y2="1381.2" stroke="#F0A0FA" stroke-width="2.3"/>
<rect x="765.39" y="1293" width="54.6" height="81.3" fill="#fff" stroke="#F0A0FA" stroke-width="2.3"/>
<line x1="765.39" x2="819.99" y1="1327.8" y2="1327.8" stroke="#F0A0FA" stroke-width="4" stroke-linecap="round"/>
<line x1="865.51" x2="865.51" y1="1244.6" y2="1252.6" stroke="#0073DE" stroke-width="2.3"/>
<line x1="865.51" x2="865.51" y1="1360.4" y2="1365.6" stroke="#0073DE" stroke-width="2.3"/>
<rect x="838.21" y="1252.6" width="54.6" height="107.8" fill="#fff" stroke="#0073DE" stroke-width="2.3"/>
<line x1="838.21" x2="892.81" y1="1312.4" y2="1312.4" stroke="#0073DE" stroke-width="4" stroke-linecap="round"/>
<circle cx="792.69" cy="1243.8" r="5.8" fill="#F0A0FA"/>
<circle cx="792.69" cy="1272.8" r="5.8" fill="#F0A0FA"/>
<circle cx="792.69" cy="1284.9" r="5.8" fill="#F0A0FA"/>
<circle cx="792.69" cy="1317.2" r="5.8" fill="#F0A0FA"/>
<circle cx="792.69" cy="1327.8" r="5.8" fill="#F0A0FA"/>
<circle cx="792.69" cy="1354.3" r="5.8" fill="#F0A0FA"/>
<circle cx="792.69" cy="1381.2" r="5.8" fill="#F0A0FA"/>
<circle cx="792.69" cy="1589.9" r="5.8" fill="#F0A0FA"/>
<circle cx="792.69" cy="1593.7" r="5.8" fill="#F0A0FA"/>
<circle cx="865.51" cy="1244.6" r="5.8" fill="#0073DE"/>
<circle cx="865.51" cy="1246.9" r="5.8" fill="#0073DE"/>
<circle cx="865.51" cy="1252.6" r="5.8" fill="#0073DE"/>
<circle cx="865.51" cy="1291.6" r="5.8" fill="#0073DE"/>
<circle cx="865.51" cy="1312.4" r="5.8" fill="#0073DE"/>
<circle cx="865.51" cy="1333.1" r="5.8" fill="#0073DE"/>
<circle cx="865.51" cy="1360.4" r="5.8" fill="#0073DE"/>
<circle cx="865.51" cy="1365.6" r="5.8" fill="#0073DE"/>
<rect x="749" y="1025.7" width="160.2" height="138.2" fill="#D9D9D9" stroke="#333333" stroke-width="2.1"/>
<text transform="translate(841.2 1094.8) rotate(-90) scale(1 1.05)" font-size="32.6" text-anchor="middle" fill="#1A1A1A">ASV_26</text>
<rect x="749" y="1163.9" width="160.2" height="482.1" fill="none" stroke="#333333" stroke-width="2.1"/>
<line x1="792.69" x2="792.69" y1="1646" y2="1652.4" stroke="#333333" stroke-width="2.1"/>
<text transform="translate(799.09 1656.2) rotate(-90) scale(1 1.05)" font-size="18.4" text-anchor="end" fill="#4D4D4D">T1</text>
<line x1="865.51" x2="865.51" y1="1646" y2="1652.4" stroke="#333333" stroke-width="2.1"/>
<text transform="translate(871.91 1656.2) rotate(-90) scale(1 1.05)" font-size="18.4" text-anchor="end" fill="#4D4D4D">T2</text>
<rect x="920.4" y="1163.9" width="160.2" height="482.1" fill="#fff"/>
<line x1="920.4" x2="1080.6" y1="1622.36" y2="1622.36" stroke="#EBEBEB" stroke-width="1.1"/>
<line x1="920.4" x2="1080.6" y1="1500.44" y2="1500.44" stroke="#EBEBEB" stroke-width="1.1"/>
<line x1="920.4" x2="1080.6" y1="1378.52" y2="1378.52" stroke="#EBEBEB" stroke-width="1.1"/>
<line x1="920.4" x2="1080.6" y1="1256.6" y2="1256.6" stroke="#EBEBEB" stroke-width="1.1"/>
<line x1="920.4" x2="1080.6" y1="1561.4" y2="1561.4" stroke="#EBEBEB" stroke-width="2.1"/>
<line x1="920.4" x2="1080.6" y1="1439.48" y2="1439.48" stroke="#EBEBEB" stroke-width="2.1"/>
<line x1="920.4" x2="1080.6" y1="1317.56" y2="1317.56" stroke="#EBEBEB" stroke-width="2.1"/>
<line x1="920.4" x2="1080.6" y1="1195.64" y2="1195.64" stroke="#EBEBEB" stroke-width="2.1"/>
<line x1="964.09" x2="964.09" y1="1163.9" y2="1646" stroke="#EBEBEB" stroke-width="2.1"/>
<line x1="1036.91" x2="1036.91" y1="1163.9" y2="1646" stroke="#EBEBEB" stroke-width="2.1"/>
<line x1="964.09" x2="964.09" y1="1251.5" y2="1294.4" stroke="#F0A0FA" stroke-width="2.3"/>
<line x1="964.09" x2="964.09" y1="1428.5" y2="1624" stroke="#F0A0FA" stroke-width="2.3"/>
<rect x="936.79" y="1294.4" width="54.6" height="134.1" fill="#fff" stroke="#F0A0FA" stroke-width="2.3"/>
<line x1="936.79" x2="991.39" y1="1335.1" y2="1335.1" stroke="#F0A0FA" stroke-width="4" stroke-linecap="round"/>
<line x1="1036.91" x2="1036.91" y1="1279.7" y2="1312.6" stroke="#0073DE" stroke-width="2.3"/>
<line x1="1036.91" x2="1036.91" y1="1355.8" y2="1417.7" stroke="#0073DE" stroke-width="2.3"/>
<rect x="1009.61" y="1312.6" width="54.6" height="43.2" fill="#fff" stroke="#0073DE" stroke-width="2.3"/>
<line x1="1009.61" x2="1064.21" y1="1347.8" y2="1347.8" stroke="#0073DE" stroke-width="4" stroke-linecap="round"/>
<circle cx="964.09" cy="1251.5" r="5.8" fill="#F0A0FA"/>
<circle cx="964.09" cy="1282" r="5.8" fill="#F0A0FA"/>
<circle cx="964.09" cy="1293" r="5.8" fill="#F0A0FA"/>
<circle cx="964.09" cy="1297.6" r="5.8" fill="#F0A0FA"/>
<circle cx="964.09" cy="1305.1" r="5.8" fill="#F0A0FA"/>
<circle cx="964.09" cy="1365.6" r="5.8" fill="#F0A0FA"/>
<circle cx="964.09" cy="1428" r="5.8" fill="#F0A0FA"/>
<circle cx="964.09" cy="1600.1" r="5.8" fill="#F0A0FA"/>
<circle cx="964.09" cy="1624" r="5.8" fill="#F0A0FA"/>
<circle cx="1036.91" cy="1279.7" r="5.8" fill="#0073DE"/>
<circle cx="1036.91" cy="1303.9" r="5.8" fill="#0073DE"/>
<circle cx="1036.91" cy="1312.6" r="5.8" fill="#0073DE"/>
<circle cx="1036.91" cy="1342.6" r="5.8" fill="#0073DE"/>
<circle cx="1036.91" cy="1347.2" r="5.8" fill="#0073DE"/>
<circle cx="1036.91" cy="1354.1" r="5.8" fill="#0073DE"/>
<circle cx="1036.91" cy="1417.7" r="5.8" fill="#0073DE"/>
<circle cx="1036.91" cy="1609.1" r="5.8" fill="#0073DE"/>
<rect x="920.4" y="1025.7" width="160.2" height="138.2" fill="#D9D9D9" stroke="#333333" stroke-width="2.1"/>
<text transform="translate(1012.6 1094.8) rotate(-90) scale(1 1.05)" font-size="32.6" text-anchor="middle" fill="#1A1A1A">ASV_29</text>
<rect x="920.4" y="1163.9" width="160.2" height="482.1" fill="none" stroke="#333333" stroke-width="2.1"/>
<line x1="964.09" x2="964.09" y1="1646" y2="1652.4" stroke="#333333" stroke-width="2.1"/>
<text transform="translate(970.49 1656.2) rotate(-90) scale(1 1.05)" font-size="18.4" text-anchor="end" fill="#4D4D4D">T1</text>
<line x1="1036.91" x2="1036.91" y1="1646" y2="1652.4" stroke="#333333" stroke-width="2.1"/>
<text transform="translate(1043.31 1656.2) rotate(-90) scale(1 1.05)" font-size="18.4" text-anchor="end" fill="#4D4D4D">T2</text>
<rect x="1091.8" y="1163.9" width="160.2" height="482.1" fill="#fff"/>
<line x1="1091.8" x2="1252" y1="1622.36" y2="1622.36" stroke="#EBEBEB" stroke-width="1.1"/>
<line x1="1091.8" x2="1252" y1="1500.44" y2="1500.44" stroke="#EBEBEB" stroke-width="1.1"/>
<line x1="1091.8" x2="1252" y1="1378.52" y2="1378.52" stroke="#EBEBEB" stroke-width="1.1"/>
<line x1="1091.8" x2="1252" y1="1256.6" y2="1256.6" stroke="#EBEBEB" stroke-width="1.1"/>
<line x1="1091.8" x2="1252" y1="1561.4" y2="1561.4" stroke="#EBEBEB" stroke-width="2.1"/>
<line x1="1091.8" x2="1252" y1="1439.48" y2="1439.48" stroke="#EBEBEB" stroke-width="2.1"/>
<line x1="1091.8" x2="1252" y1="1317.56" y2="1317.56" stroke="#EBEBEB" stroke-width="2.1"/>
<line x1="1091.8" x2="1252" y1="1195.64" y2="1195.64" stroke="#EBEBEB" stroke-width="2.1"/>
<line x1="1135.49" x2="1135.49" y1="1163.9" y2="1646" stroke="#EBEBEB" stroke-width="2.1"/>
<line x1="1208.31" x2="1208.31" y1="1163.9" y2="1646" stroke="#EBEBEB" stroke-width="2.1"/>
<line x1="1135.49" x2="1135.49" y1="1356.1" y2="1365.5" stroke="#F0A0FA" stroke-width="2.3"/>
<line x1="1135.49" x2="1135.49" y1="1401.1" y2="1402.3" stroke="#F0A0FA" stroke-width="2.3"/>
<rect x="1108.19" y="1365.5" width="54.6" height="35.6" fill="#fff" stroke="#F0A0FA" stroke-width="2.3"/>
<line x1="1108.19" x2="1162.79" y1="1384.8" y2="1384.8" stroke="#F0A0FA" stroke-width="4" stroke-linecap="round"/>
<line x1="1208.31" x2="1208.31" y1="1270.9" y2="1320.5" stroke="#0073DE" stroke-width="2.3"/>
<rect x="1181.01" y="1320.5" width="54.6" height="86.8" fill="#fff" stroke="#0073DE" stroke-width="2.3"/>
<line x1="1181.01" x2="1235.61" y1="1398.8" y2="1398.8" stroke="#0073DE" stroke-width="4" stroke-linecap="round"/>
<circle cx="1135.49" cy="1260.9" r="5.8" fill="#F0A0FA"/>
<circle cx="1135.49" cy="1356.1" r="5.8" fill="#F0A0FA"/>
<circle cx="1135.49" cy="1361.1" r="5.8" fill="#F0A0FA"/>
<circle cx="1135.49" cy="1377.3" r="5.8" fill="#F0A0FA"/>
<circle cx="1135.49" cy="1382.3" r="5.8" fill="#F0A0FA"/>
<circle cx="1135.49" cy="1388.6" r="5.8" fill="#F0A0FA"/>
<circle cx="1135.49" cy="1397.3" r="5.8" fill="#F0A0FA"/>
<circle cx="1135.49" cy="1402.3" r="5.8" fill="#F0A0FA"/>
<circle cx="1135.49" cy="1592.8" r="5.8" fill="#F0A0FA"/>
<circle cx="1135.49" cy="1624" r="5.8" fill="#F0A0FA"/>
<circle cx="1208.31" cy="1270.9" r="5.8" fill="#0073DE"/>
<circle cx="1208.31" cy="1292.7" r="5.8" fill="#0073DE"/>
<circle cx="1208.31" cy="1320.5" r="5.8" fill="#0073DE"/>
<circle cx="1208.31" cy="1361.1" r="5.8" fill="#0073DE"/>
<circle cx="1208.31" cy="1398.8" r="5.8" fill="#0073DE"/>
<circle cx="1208.31" cy="1404.8" r="5.8" fill="#0073DE"/>
<circle cx="1208.31" cy="1407.3" r="5.8" fill="#0073DE"/>
<circle cx="1208.31" cy="1596.3" r="5.8" fill="#0073DE"/>
<circle cx="1208.31" cy="1600.7" r="5.8" fill="#0073DE"/>
<rect x="1091.8" y="1025.7" width="160.2" height="138.2" fill="#D9D9D9" stroke="#333333" stroke-width="2.1"/>
<text transform="translate(1184 1094.8) rotate(-90) scale(1 1.05)" font-size="32.6" text-anchor="middle" fill="#1A1A1A">ASV_32</text>
<rect x="1091.8" y="1163.9" width="160.2" height="482.1" fill="none" stroke="#333333" stroke-width="2.1"/>
<line x1="1135.49" x2="1135.49" y1="1646" y2="1652.4" stroke="#333333" stroke-width="2.1"/>
<text transform="translate(1141.89 1656.2) rotate(-90) scale(1 1.05)" font-size="18.4" text-anchor="end" fill="#4D4D4D">T1</text>
<line x1="1208.31" x2="1208.31" y1="1646" y2="1652.4" stroke="#333333" stroke-width="2.1"/>
<text transform="translate(1214.71 1656.2) rotate(-90) scale(1 1.05)" font-size="18.4" text-anchor="end" fill="#4D4D4D">T2</text>
<rect x="1263.2" y="1163.9" width="160.2" height="482.1" fill="#fff"/>
<line x1="1263.2" x2="1423.4" y1="1622.36" y2="1622.36" stroke="#EBEBEB" stroke-width="1.1"/>
<line x1="1263.2" x2="1423.4" y1="1500.44" y2="1500.44" stroke="#EBEBEB" stroke-width="1.1"/>
<line x1="1263.2" x2="1423.4" y1="1378.52" y2="1378.52" stroke="#EBEBEB" stroke-width="1.1"/>
<line x1="1263.2" x2="1423.4" y1="1256.6" y2="1256.6" stroke="#EBEBEB" stroke-width="1.1"/>
<line x1="1263.2" x2="1423.4" y1="1561.4" y2="1561.4" stroke="#EBEBEB" stroke-width="2.1"/>
<line x1="1263.2" x2="1423.4" y1="1439.48" y2="1439.48" stroke="#EBEBEB" stroke-width="2.1"/>
<line x1="1263.2" x2="1423.4" y1="1317.56" y2="1317.56" stroke="#EBEBEB" stroke-width="2.1"/>
<line x1="1263.2" x2="1423.4" y1="1195.64" y2="1195.64" stroke="#EBEBEB" stroke-width="2.1"/>
<line x1="1306.89" x2="1306.89" y1="1163.9" y2="1646" stroke="#EBEBEB" stroke-width="2.1"/>
<line x1="1379.71" x2="1379.71" y1="1163.9" y2="1646" stroke="#EBEBEB" stroke-width="2.1"/>
<line x1="1306.89" x2="1306.89" y1="1228.1" y2="1269.3" stroke="#F0A0FA" stroke-width="2.3"/>
<line x1="1306.89" x2="1306.89" y1="1368.6" y2="1422.2" stroke="#F0A0FA" stroke-width="2.3"/>
<rect x="1279.59" y="1269.3" width="54.6" height="99.3" fill="#fff" stroke="#F0A0FA" stroke-width="2.3"/>
<line x1="1279.59" x2="1334.19" y1="1337.7" y2="1337.7" stroke="#F0A0FA" stroke-width="4" stroke-linecap="round"/>
<line x1="1379.71" x2="1379.71" y1="1195" y2="1268.7" stroke="#0073DE" stroke-width="2.3"/>
<line x1="1379.71" x2="1379.71" y1="1396.7" y2="1444.3" stroke="#0073DE" stroke-width="2.3"/>
<rect x="1352.41" y="1268.7" width="54.6" height="128" fill="#fff" stroke="#0073DE" stroke-width="2.3"/>
<line x1="1352.41" x2="1407.01" y1="1306.1" y2="1306.1" stroke="#0073DE" stroke-width="4" stroke-linecap="round"/>
<circle cx="1306.89" cy="1228.1" r="5.8" fill="#F0A0FA"/>
<circle cx="1306.89" cy="1251.2" r="5.8" fill="#F0A0FA"/>
<circle cx="1306.89" cy="1256.8" r="5.8" fill="#F0A0FA"/>
<circle cx="1306.89" cy="1307.4" r="5.8" fill="#F0A0FA"/>
<circle cx="1306.89" cy="1319.6" r="5.8" fill="#F0A0FA"/>
<circle cx="1306.89" cy="1355.5" r="5.8" fill="#F0A0FA"/>
<circle cx="1306.89" cy="1364.9" r="5.8" fill="#F0A0FA"/>
<circle cx="1306.89" cy="1368.6" r="5.8" fill="#F0A0FA"/>
<circle cx="1306.89" cy="1422.2" r="5.8" fill="#F0A0FA"/>
<circle cx="1306.89" cy="1602.8" r="5.8" fill="#F0A0FA"/>
<circle cx="1379.71" cy="1195" r="5.8" fill="#0073DE"/>
<circle cx="1379.71" cy="1202.5" r="5.8" fill="#0073DE"/>
<circle cx="1379.71" cy="1268.7" r="5.8" fill="#0073DE"/>
<circle cx="1379.71" cy="1300.5" r="5.8" fill="#0073DE"/>
<circle cx="1379.71" cy="1306.1" r="5.8" fill="#0073DE"/>
<circle cx="1379.71" cy="1356.7" r="5.8" fill="#0073DE"/>
<circle cx="1379.71" cy="1396.7" r="5.8" fill="#0073DE"/>
<circle cx="1379.71" cy="1444.3" r="5.8" fill="#0073DE"/>
<circle cx="1379.71" cy="1599.1" r="5.8" fill="#0073DE"/>
<rect x="1263.2" y="1025.7" width="160.2" height="138.2" fill="#D9D9D9" stroke="#333333" stroke-width="2.1"/>
<text transform="translate(1355.4 1094.8) rotate(-90) scale(1 1.05)" font-size="32.6" text-anchor="middle" fill="#1A1A1A">ASV_34</text>
<rect x="1263.2" y="1163.9" width="160.2" height="482.1" fill="none" stroke="#333333" stroke-width="2.1"/>
<line x1="1306.89" x2="1306.89" y1="1646" y2="1652.4" stroke="#333333" stroke-width="2.1"/>
<text transform="translate(1313.29 1656.2) rotate(-90) scale(1 1.05)" font-size="18.4" text-anchor="end" fill="#4D4D4D">T1</text>
<line x1="1379.71" x2="1379.71" y1="1646" y2="1652.4" stroke="#333333" stroke-width="2.1"/>
<text transform="translate(1386.11 1656.2) rotate(-90) scale(1 1.05)" font-size="18.4" text-anchor="end" fill="#4D4D4D">T2</text>
<rect x="1434.6" y="1163.9" width="160.2" height="482.1" fill="#fff"/>
<line x1="1434.6" x2="1594.8" y1="1622.36" y2="1622.36" stroke="#EBEBEB" stroke-width="1.1"/>
<line x1="1434.6" x2="1594.8" y1="1500.44" y2="1500.44" stroke="#EBEBEB" stroke-width="1.1"/>
<line x1="1434.6" x2="1594.8" y1="1378.52" y2="1378.52" stroke="#EBEBEB" stroke-width="1.1"/>
<line x1="1434.6" x2="1594.8" y1="1256.6" y2="1256.6" stroke="#EBEBEB" stroke-width="1.1"/>
<line x1="1434.6" x2="1594.8" y1="1561.4" y2="1561.4" stroke="#EBEBEB" stroke-width="2.1"/>
<line x1="1434.6" x2="1594.8" y1="1439.48" y2="1439.48" stroke="#EBEBEB" stroke-width="2.1"/>
<line x1="1434.6" x2="1594.8" y1="1317.56" y2="1317.56" stroke="#EBEBEB" stroke-width="2.1"/>
<line x1="1434.6" x2="1594.8" y1="1195.64" y2="1195.64" stroke="#EBEBEB" stroke-width="2.1"/>
<line x1="1478.29" x2="1478.29" y1="1163.9" y2="1646" stroke="#EBEBEB" stroke-width="2.1"/>
<line x1="1551.11" x2="1551.11" y1="1163.9" y2="1646" stroke="#EBEBEB" stroke-width="2.1"/>
<line x1="1478.29" x2="1478.29" y1="1317.1" y2="1380.5" stroke="#F0A0FA" stroke-width="2.3"/>
<line x1="1478.29" x2="1478.29" y1="1598.5" y2="1606.2" stroke="#F0A0FA" stroke-width="2.3"/>
<rect x="1450.99" y="1380.5" width="54.6" height="218" fill="#fff" stroke="#F0A0FA" stroke-width="2.3"/>
<line x1="1450.99" x2="1505.59" y1="1510.4" y2="1510.4" stroke="#F0A0FA" stroke-width="4" stroke-linecap="round"/>
<line x1="1551.11" x2="1551.11" y1="1314.3" y2="1376.1" stroke="#0073DE" stroke-width="2.3"/>
<line x1="1551.11" x2="1551.11" y1="1597" y2="1609.1" stroke="#0073DE" stroke-width="2.3"/>
<rect x="1523.81" y="1376.1" width="54.6" height="220.9" fill="#fff" stroke="#0073DE" stroke-width="2.3"/>
<line x1="1523.81" x2="1578.41" y1="1501.2" y2="1501.2" stroke="#0073DE" stroke-width="4" stroke-linecap="round"/>
<circle cx="1478.29" cy="1317.1" r="5.8" fill="#F0A0FA"/>
<circle cx="1478.29" cy="1349.6" r="5.8" fill="#F0A0FA"/>
<circle cx="1478.29" cy="1373.3" r="5.8" fill="#F0A0FA"/>
<circle cx="1478.29" cy="1401.7" r="5.8" fill="#F0A0FA"/>
<circle cx="1478.29" cy="1430.3" r="5.8" fill="#F0A0FA"/>
<circle cx="1478.29" cy="1589.9" r="5.8" fill="#F0A0FA"/>
<circle cx="1478.29" cy="1598.5" r="5.8" fill="#F0A0FA"/>
<circle cx="1478.29" cy="1606.2" r="5.8" fill="#F0A0FA"/>
<circle cx="1551.11" cy="1314.3" r="5.8" fill="#0073DE"/>
<circle cx="1551.11" cy="1373" r="5.8" fill="#0073DE"/>
<circle cx="1551.11" cy="1378.6" r="5.8" fill="#0073DE"/>
<circle cx="1551.11" cy="1501.2" r="5.8" fill="#0073DE"/>
<circle cx="1551.11" cy="1592.8" r="5.8" fill="#0073DE"/>
<circle cx="1551.11" cy="1601.4" r="5.8" fill="#0073DE"/>
<circle cx="1551.11" cy="1609.1" r="5.8" fill="#0073DE"/>
<rect x="1434.6" y="1025.7" width="160.2" height="138.2" fill="#D9D9D9" stroke="#333333" stroke-width="2.1"/>
<text transform="translate(1526.8 1094.8) rotate(-90) scale(1 1.05)" font-size="32.6" text-anchor="middle" fill="#1A1A1A">ASV_50</text>
<rect x="1434.6" y="1163.9" width="160.2" height="482.1" fill="none" stroke="#333333" stroke-width="2.1"/>
<line x1="1478.29" x2="1478.29" y1="1646" y2="1652.4" stroke="#333333" stroke-width="2.1"/>
<text transform="translate(1484.69 1656.2) rotate(-90) scale(1 1.05)" font-size="18.4" text-anchor="end" fill="#4D4D4D">T1</text>
<line x1="1551.11" x2="1551.11" y1="1646" y2="1652.4" stroke="#333333" stroke-width="2.1"/>
<text transform="translate(1557.51 1656.2) rotate(-90) scale(1 1.05)" font-size="18.4" text-anchor="end" fill="#4D4D4D">T2</text>
<rect x="1606" y="1163.9" width="160.2" height="482.1" fill="#fff"/>
<line x1="1606" x2="1766.2" y1="1622.36" y2="1622.36" stroke="#EBEBEB" stroke-width="1.1"/>
<line x1="1606" x2="1766.2" y1="1500.44" y2="1500.44" stroke="#EBEBEB" stroke-width="1.1"/>
<line x1="1606" x2="1766.2" y1="1378.52" y2="1378.52" stroke="#EBEBEB" stroke-width="1.1"/>
<line x1="1606" x2="1766.2" y1="1256.6" y2="1256.6" stroke="#EBEBEB" stroke-width="1.1"/>
<line x1="1606" x2="1766.2" y1="1561.4" y2="1561.4" stroke="#EBEBEB" stroke-width="2.1"/>
<line x1="1606" x2="1766.2" y1="1439.48" y2="1439.48" stroke="#EBEBEB" stroke-width="2.1"/>
<line x1="1606" x2="1766.2" y1="1317.56" y2="1317.56" stroke="#EBEBEB" stroke-width="2.1"/>
<line x1="1606" x2="1766.2" y1="1195.64" y2="1195.64" stroke="#EBEBEB" stroke-width="2.1"/>
<line x1="1649.69" x2="1649.69" y1="1163.9" y2="1646" stroke="#EBEBEB" stroke-width="2.1"/>
<line x1="1722.51" x2="1722.51" y1="1163.9" y2="1646" stroke="#EBEBEB" stroke-width="2.1"/>
<line x1="1649.69" x2="1649.69" y1="1254.9" y2="1325.5" stroke="#F0A0FA" stroke-width="2.3"/>
<line x1="1649.69" x2="1649.69" y1="1380.5" y2="1389.8" stroke="#F0A0FA" stroke-width="2.3"/>
<rect x="1622.39" y="1325.5" width="54.6" height="55" fill="#fff" stroke="#F0A0FA" stroke-width="2.3"/>
<line x1="1622.39" x2="1676.99" y1="1362.4" y2="1362.4" stroke="#F0A0FA" stroke-width="4" stroke-linecap="round"/>
<line x1="1722.51" x2="1722.51" y1="1265.5" y2="1308.4" stroke="#0073DE" stroke-width="2.3"/>
<rect x="1695.21" y="1308.4" width="54.6" height="60.2" fill="#fff" stroke="#0073DE" stroke-width="2.3"/>
<line x1="1695.21" x2="1749.81" y1="1337.4" y2="1337.4" stroke="#0073DE" stroke-width="4" stroke-linecap="round"/>
<circle cx="1649.69" cy="1254.9" r="5.8" fill="#F0A0FA"/>
<circle cx="1649.69" cy="1277.2" r="5.8" fill="#F0A0FA"/>
<circle cx="1649.69" cy="1323.6" r="5.8" fill="#F0A0FA"/>
<circle cx="1649.69" cy="1329.6" r="5.8" fill="#F0A0FA"/>
<circle cx="1649.69" cy="1356.1" r="5.8" fill="#F0A0FA"/>
<circle cx="1649.69" cy="1362.4" r="5.8" fill="#F0A0FA"/>
<circle cx="1649.69" cy="1369.2" r="5.8" fill="#F0A0FA"/>
<circle cx="1649.69" cy="1384.8" r="5.8" fill="#F0A0FA"/>
<circle cx="1649.69" cy="1389.8" r="5.8" fill="#F0A0FA"/>
<circle cx="1649.69" cy="1604.2" r="5.8" fill="#F0A0FA"/>
<circle cx="1722.51" cy="1265.5" r="5.8" fill="#0073DE"/>
<circle cx="1722.51" cy="1291.4" r="5.8" fill="#0073DE"/>
<circle cx="1722.51" cy="1308.4" r="5.8" fill="#0073DE"/>
<circle cx="1722.51" cy="1320.9" r="5.8" fill="#0073DE"/>
<circle cx="1722.51" cy="1337.4" r="5.8" fill="#0073DE"/>
<circle cx="1722.51" cy="1352.6" r="5.8" fill="#0073DE"/>
<circle cx="1722.51" cy="1368.6" r="5.8" fill="#0073DE"/>
<circle cx="1722.51" cy="1592.7" r="5.8" fill="#0073DE"/>
<circle cx="1722.51" cy="1598" r="5.8" fill="#0073DE"/>
<rect x="1606" y="1025.7" width="160.2" height="138.2" fill="#D9D9D9" stroke="#333333" stroke-width="2.1"/>
<text transform="translate(1698.2 1094.8) rotate(-90) scale(1 1.05)" font-size="32.6" text-anchor="middle" fill="#1A1A1A">ASV_58</text>
<rect x="1606" y="1163.9" width="160.2" height="482.1" fill="none" stroke="#333333" stroke-width="2.1"/>
<line x1="1649.69" x2="1649.69" y1="1646" y2="1652.4" stroke="#333333" stroke-width="2.1"/>
<text transform="translate(1656.09 1656.2) rotate(-90) scale(1 1.05)" font-size="18.4" text-anchor="end" fill="#4D4D4D">T1</text>
<line x1="1722.51" x2="1722.51" y1="1646" y2="1652.4" stroke="#333333" stroke-width="2.1"/>
<text transform="translate(1728.91 1656.2) rotate(-90) scale(1 1.05)" font-size="18.4" text-anchor="end" fill="#4D4D4D">T2</text>
<line x1="57" x2="63.4" y1="1561.4" y2="1561.4" stroke="#333333" stroke-width="2.1"/>
<text transform="translate(53.6 1568.5)" font-size="19" text-anchor="end" fill="#4D4D4D">0</text>
<line x1="57" x2="63.4" y1="1439.48" y2="1439.48" stroke="#333333" stroke-width="2.1"/>
<text transform="translate(53.6 1446.58)" font-size="19" text-anchor="end" fill="#4D4D4D">2</text>
<line x1="57" x2="63.4" y1="1317.56" y2="1317.56" stroke="#333333" stroke-width="2.1"/>
<text transform="translate(53.6 1324.66)" font-size="19" text-anchor="end" fill="#4D4D4D">4</text>
<line x1="57" x2="63.4" y1="1195.64" y2="1195.64" stroke="#333333" stroke-width="2.1"/>
<text transform="translate(53.6 1202.74)" font-size="19" text-anchor="end" fill="#4D4D4D">6</text>
<text transform="translate(33 1405) rotate(-90) scale(1 1.07)" font-size="22.3" text-anchor="middle">TSS+CLR</text>
<text transform="translate(1190.8 27.5) scale(1 1.05)" font-size="27.58" font-weight="bold">Taxa</text>
<rect x="1190.9" y="30.3" width="62" height="2.6" fill="#000"/>
<text transform="translate(1190.4 59.97) scale(1 1.05)" font-size="27.58"><tspan font-weight="bold">ASV_5:</tspan> Prevotella</text>
<text transform="translate(1190.4 93.04) scale(1 1.05)" font-size="27.58"><tspan font-weight="bold">ASV_7</tspan>: Faecalibacterium</text>
<text transform="translate(1190.4 126.11) scale(1 1.05)" font-size="27.58"><tspan font-weight="bold">ASV_13</tspan>: Dorea</text>
<text transform="translate(1190.4 159.18) scale(1 1.05)" font-size="27.58"><tspan font-weight="bold">ASV_15</tspan>: Bifidobacterium</text>
<text transform="translate(1190.4 192.25) scale(1 1.05)" font-size="27.58"><tspan font-weight="bold">ASV_16:</tspan> Roseburia</text>
<text transform="translate(1190.4 225.32) scale(1 1.05)" font-size="27.58"><tspan font-weight="bold">ASV_20:</tspan> Collinsella</text>
<text transform="translate(1190.4 258.39) scale(1 1.05)" font-size="27.58"><tspan font-weight="bold">ASV_26</tspan>: Ruminococcus_torques_group</text>
<text transform="translate(1190.4 291.46) scale(1 1.05)" font-size="27.58"><tspan font-weight="bold">ASV_29</tspan>: Bifidobacterium_longum</text>
<text transform="translate(1190.4 324.53) scale(1 1.05)" font-size="27.58"><tspan font-weight="bold">ASV_32:</tspan> Romboutsia</text>
<text transform="translate(1190.4 357.6) scale(1 1.05)" font-size="27.58"><tspan font-weight="bold">ASV_34</tspan>: Prevotella_copri</text>
<text transform="translate(1190.4 390.67) scale(1 1.05)" font-size="27.58"><tspan font-weight="bold">ASV_58</tspan>: Blautia</text>
<text transform="translate(1190.4 423.74) scale(1 1.05)" font-size="27.58"><tspan font-weight="bold">ASV_50</tspan>: Clostridium_sensu_stricto_1</text>
<text transform="translate(1190.4 456.81) scale(1 1.05)" font-size="27.58"><tspan font-weight="bold">ASV_60:</tspan> Oscillospiraceae; UCG-002</text>
<text transform="translate(64 782.9) scale(1 1.05)" font-size="27.58" font-weight="bold">Subsets</text>
<rect x="64" y="786.3" width="108" height="2.6" fill="#000"/>
<text transform="translate(64 815.87) scale(1 1.05)" font-size="27.58"><tspan font-weight="bold">S1:</tspan> ASV_5 + ASV_16 + ASV_20 + ASV_60 (R = 0.77813)</text>
<text transform="translate(64 848.94) scale(1 1.05)" font-size="27.58"><tspan font-weight="bold">S2:</tspan> ASV_5 + ASV_16 + ASV_20 + ASV_32 + ASV_60 (R = 0.77454)</text>
<text transform="translate(64 882.01) scale(1 1.05)" font-size="27.58"><tspan font-weight="bold">S3:</tspan> ASV_5 + ASV_16 + ASV_20 (R = 0.76687)</text>
<text transform="translate(64 915.08) scale(1 1.05)" font-size="27.58"><tspan font-weight="bold">S4:</tspan> ASV_5 + ASV_20 (R = 0.74755)</text>
<text transform="translate(61 1718) scale(1 1.05)" font-size="27.58" font-weight="bold">Subsets</text>
<rect x="61" y="1720.6" width="108" height="2.6" fill="#000"/>
<text transform="translate(61 1751.07) scale(1 1.05)" font-size="27.58"><tspan font-weight="bold">S1</tspan>: ASV_7 + ASV_13 + ASV_15 + ASV_16 + ASV_26 + ASV_29 + ASV_32 + ASV_34 + ASV_58 ( R = 0.88796)</text>
<text transform="translate(61 1784.14) scale(1 1.05)" font-size="27.58"><tspan font-weight="bold">S2</tspan>: ASV_7 + ASV_13 + ASV_15 + ASV_16 + ASV_26 + ASV_29 + ASV_32 + ASV_34 + ASV_50 + ASV_58 ( R = 0.88751)</text>
<text transform="translate(61 1817.21) scale(1 1.05)" font-size="27.58"><tspan font-weight="bold">S3</tspan>: ASV_7 + ASV_13 + ASV_15 + ASV_16 + ASV_26 + ASV_29 + ASV_32 + ASV_58 ( R = 0.88084)</text>
<text transform="translate(61 1850.28) scale(1 1.05)" font-size="27.58"><tspan font-weight="bold">S4</tspan>: ASV_7 + ASV_13 + ASV_15 + ASV_16 + ASV_26 + ASV_29 + ASV_34 + ASV_58 ( R = 0.87760)</text>
<text transform="translate(61 1883.35) scale(1 1.05)" font-size="27.58"><tspan font-weight="bold">S5</tspan>: ASV_7 + ASV_13 + ASV_15 + ASV_16 + ASV_26 + ASV_29 + ASV_58 ( R = 0.87111)</text>
<text transform="translate(61 1916.42) scale(1 1.05)" font-size="27.58"><tspan font-weight="bold">S6</tspan>: ASV_7 + ASV_13 + ASV_15 + ASV_16 + ASV_26 + ASV_34 + ASV_58 ( R = 0.87080)</text>
<text transform="translate(61 1949.49) scale(1 1.05)" font-size="27.58"><tspan font-weight="bold">S7</tspan>: ASV_7 + ASV_13 + ASV_16 + ASV_26 + ASV_34 + ASV_58 ( R = 0.86574)</text>
<text transform="translate(61 1982.56) scale(1 1.05)" font-size="27.58"><tspan font-weight="bold">S8</tspan>: ASV_7 + ASV_13 + ASV_16 + ASV_26 + ASV_58 ( R = 0.84719)</text>
<text transform="translate(61 2015.63) scale(1 1.05)" font-size="27.58"><tspan font-weight="bold">S9</tspan>: ASV_7 + ASV_16 + ASV_26 + ASV_58 (R = 0.82984)</text>
<text transform="translate(61 2048.7) scale(1 1.05)" font-size="27.58"><tspan font-weight="bold">S10</tspan>: ASV_7 + ASV_16 + ASV_26 (R = 0.78816)</text>
<text transform="translate(61 2081.77) scale(1 1.05)" font-size="27.58"><tspan font-weight="bold">S11</tspan>: ASV_7 + ASV_16 (R = 0.74863)</text>
</svg></body></html>
